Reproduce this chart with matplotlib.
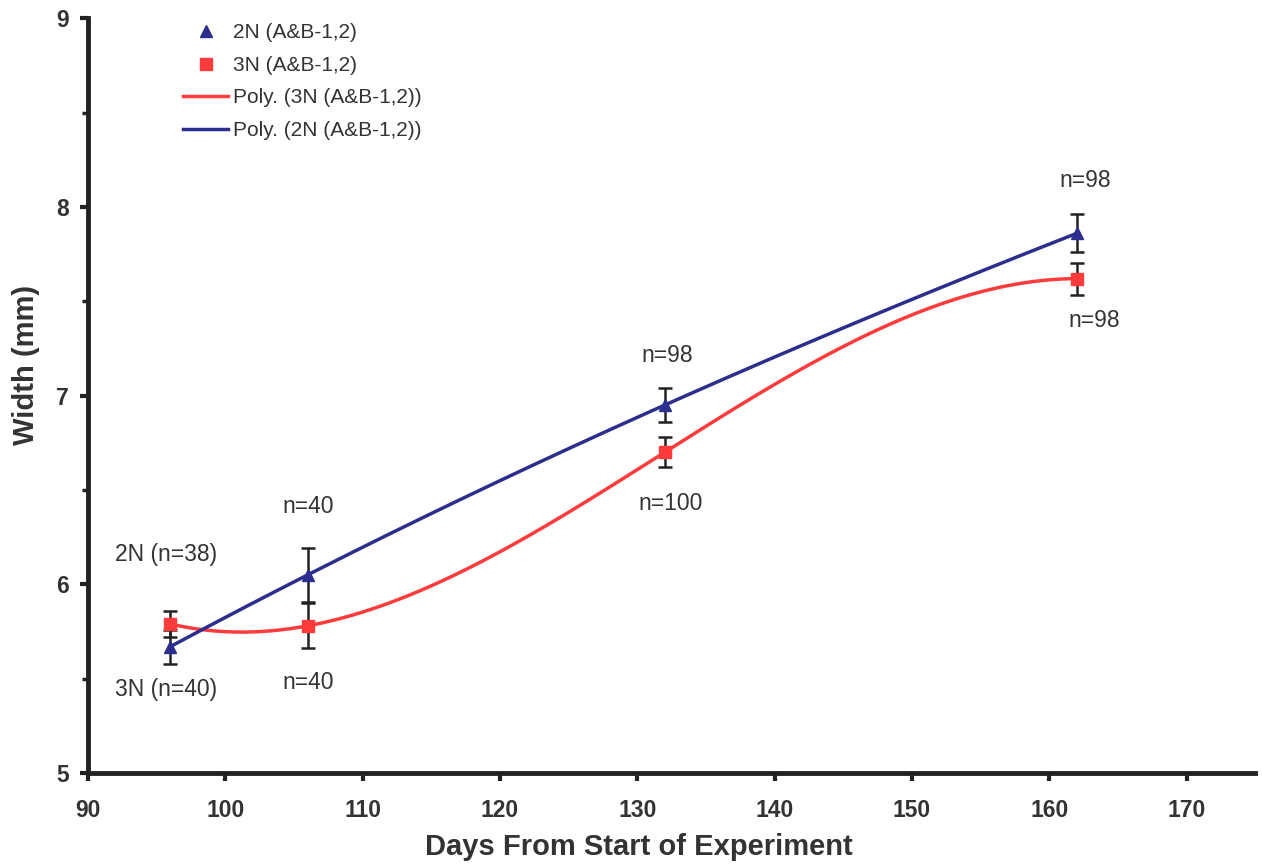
import numpy as np
import matplotlib.pyplot as plt
from matplotlib.ticker import MultipleLocator

# Data
days = [96, 106, 132, 162]
width_2n = [5.67, 6.05, 6.95, 7.86]
err_2n = [0.09, 0.145, 0.09, 0.10]
width_3n = [5.79, 5.78, 6.70, 7.62]
err_3n = [0.07, 0.12, 0.08, 0.085]

# sample size labels
labels = ["2N (n=38)", "3N (n=40)", "n=40", "n=40", "n=98", "n=100", "n=98", "n=98"]
label_x = [95.7, 95.7, 106.0, 106.0, 132.2, 132.4, 162.6, 163.3]
label_y = [6.16, 5.44, 6.41, 5.48, 7.21, 6.43, 8.14, 7.40]

BLUE = "#2b2e8c"
RED = "#ff3b3b"

plt.rcParams['font.family'] = ['Liberation Sans', 'DejaVu Sans']

fig = plt.figure(figsize=(12.62, 8.67), dpi=100)
ax = fig.add_axes([0.0697, 0.1084, 0.925, 0.8706])

# polynomial trend lines (3rd order, as in the spreadsheet trendline)
xs = np.linspace(days[0], days[-1], 300)
p3 = np.polyfit(days, width_3n, 3)
p2 = np.polyfit(days, width_2n, 3)

ax.errorbar(days, width_2n, yerr=err_2n, fmt="none", ecolor="#222222", elinewidth=1.8, capsize=5, capthick=1.8, zorder=2)
ax.errorbar(days, width_3n, yerr=err_3n, fmt="none", ecolor="#222222", elinewidth=1.8, capsize=5, capthick=1.8, zorder=2)

ax.plot(days, width_2n, linestyle="none", marker="^", color=BLUE, markersize=8, label="2N (A&B-1,2)", zorder=4)
ax.plot(days, width_3n, linestyle="none", marker="s", color=RED, markersize=8, label="3N (A&B-1,2)", zorder=4)
ax.plot(xs, np.polyval(p3, xs), color=RED, linewidth=2.5, label="Poly. (3N (A&B-1,2))", zorder=3)
ax.plot(xs, np.polyval(p2, xs), color=BLUE, linewidth=2.5, label="Poly. (2N (A&B-1,2))", zorder=3)

for t, x, y in zip(labels, label_x, label_y):
    ax.text(x, y, t, ha="center", va="center", fontsize=16.5, color="#333333")

ax.set_xlim(90, 175)
ax.set_ylim(5, 9)
ax.set_xticks(range(90, 171, 10))
ax.set_yticks(range(5, 10))
ax.yaxis.set_minor_locator(MultipleLocator(0.5))

for s in ["top", "right"]:
    ax.spines[s].set_visible(False)
for s in ["left", "bottom"]:
    ax.spines[s].set_linewidth(3.5)
    ax.spines[s].set_color("#222222")

ax.tick_params(axis="both", which="major", length=6, width=3, color="#222222",
               labelsize=16.5, labelcolor="#333333")
ax.tick_params(axis="x", which="major", pad=13)
ax.tick_params(axis="y", which="major", pad=8)
ax.tick_params(axis="y", which="minor", length=4, width=2.5, color="#222222")
for lbl in ax.get_xticklabels() + ax.get_yticklabels():
    lbl.set_fontweight("bold")

ax.set_xlabel("Days From Start of Experiment", fontsize=21, fontweight="bold", color="#333333")
ax.set_ylabel("Width (mm)", fontsize=21, fontweight="bold", color="#333333")
ax.xaxis.set_label_coords(0.472, -0.08)
ax.yaxis.set_label_coords(-0.041, 0.54)

leg = ax.legend(loc="upper left", bbox_to_anchor=(0.065, 1.018), frameon=False, fontsize=15,
                handlelength=2.2, labelspacing=0.65, handletextpad=0.2)
for t in leg.get_texts():
    t.set_color("#333333")

fig.savefig("out.png", dpi=100)
